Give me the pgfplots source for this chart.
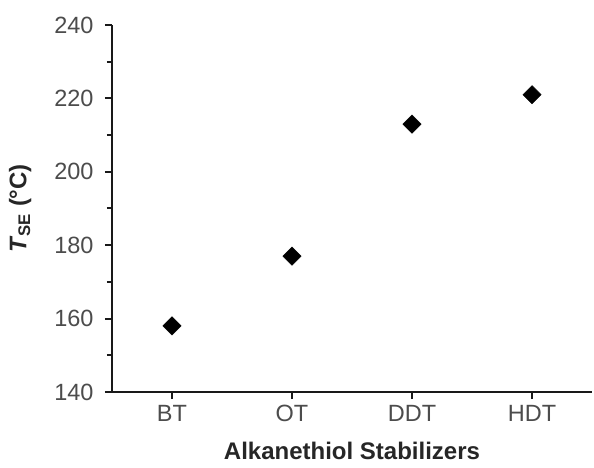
\documentclass[border=0pt]{standalone}
\usepackage{fontspec}
\setmainfont{Liberation Sans}
\usepackage{pgfplots}
\pgfplotsset{compat=1.18}

\begin{document}
\begin{tikzpicture}
\begin{axis}[
    name=ax,
    scale only axis,
    width=480pt, height=367pt,
    xmin=-0.5, xmax=3.5,
    ymin=140, ymax=240,
    axis x line*=bottom, axis y line*=left,
    axis line style={line width=2.2pt, black!90},
    xtick={0,1,2,3},
    xticklabels={BT,OT,DDT,HDT},
    ytick={140,160,...,240},
    minor ytick={150,170,...,230},
    tick style={line width=2pt, black!90},
    tick align=outside,
    major tick length=7pt,
    minor tick length=5pt,
    tick label style={font=\fontsize{23.5}{28}\selectfont, text=black!70},
    yticklabel style={xshift=-8pt},
    xticklabel style={yshift=-3pt},
    /pgf/number format/assume math mode=true,
    xlabel={\textbf{Alkanethiol Stabilizers}},
    ylabel={\textbf{\textit{T}\textsubscript{SE} (°C)}},
    label style={font=\fontsize{24}{28}\selectfont, text=black!85},
    xlabel style={yshift=-13pt},
    ylabel style={yshift=16pt},
    clip=false,
]
\addplot[only marks, mark=square*, mark size=6.5pt, mark options={rotate=45}, black] coordinates {
    (0,158) (1,177) (2,213) (3,221)
};
\end{axis}
\pgfresetboundingbox
\path ([xshift=-112pt,yshift=-76pt]ax.south west) rectangle ([xshift=2pt,yshift=25pt]ax.north east);
\end{tikzpicture}
\end{document}
